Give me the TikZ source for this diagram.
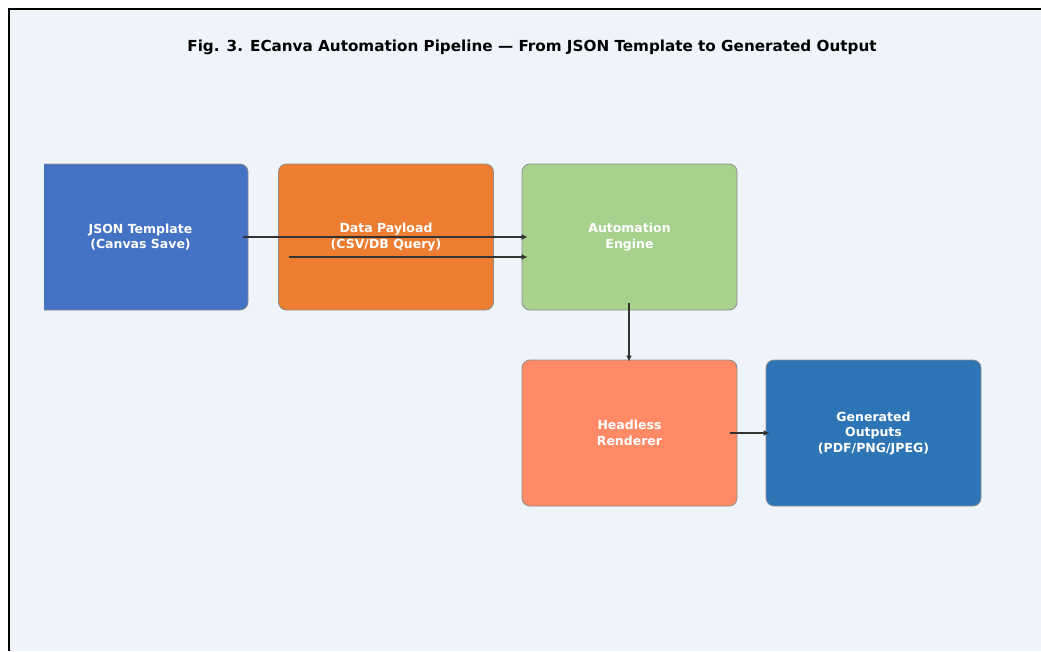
\documentclass[tikz,border=0pt]{standalone}
\usepackage{fontspec}
\setmainfont{DejaVu Sans}
\usetikzlibrary{arrows.meta}
\definecolor{bgc}{HTML}{EFF4FB}
\definecolor{cjson}{HTML}{4472C4}
\definecolor{cdata}{HTML}{ED7D31}
\definecolor{cauto}{HTML}{A9D18E}
\definecolor{crend}{HTML}{FF8A65}
\definecolor{cout}{HTML}{2E75B6}
\definecolor{carr}{HTML}{333333}
\tikzset{
  box/.style={draw=black!45, line width=0.8pt, rounded corners=8pt,
    minimum width=215pt, minimum height=146pt, inner sep=0pt,
    text=white, font=\fontsize{12.5}{15.5}\selectfont\bfseries, align=center},
  arr/.style={draw=carr, line width=1.6pt, -{Latex[length=6pt,width=6pt]}}
}
\begin{document}
\begin{tikzpicture}[x=1pt,y=-1pt]
\useasboundingbox (0,0) rectangle (1041,651);
\fill[white] (0,0) rectangle (1041,651);
\fill[bgc] (9,9) rectangle (1041,651);
\draw[black, line width=1.5pt] (9,651) -- (9,9) -- (1041,9);
\node[font=\fontsize{15.2}{18}\selectfont\bfseries, text=black] (title) at (532,47) {Fig. 3. ECanva Automation Pipeline — From JSON Template to Generated Output};
\begin{scope}
\clip (44,0) rectangle (1041,651);
\node[box, fill=cjson] (json) at (140.5,237) {JSON Template\\(Canvas Save)};
\end{scope}
\node[box, fill=cdata] (data) at (386,237) {Data Payload\\(CSV/DB Query)};
\node[box, fill=cauto] (auto) at (629.5,237) {Automation\\Engine};
\node[box, fill=crend] (rend) at (629.5,433) {Headless\\Renderer};
\node[box, fill=cout] (out) at (873.5,433) {Generated\\Outputs\\(PDF/PNG/JPEG)};
\draw[arr] ([xshift=-5pt]json.east) -- ([xshift=6pt]auto.west);
\draw[arr] ([xshift=11pt,yshift=-20pt]data.west) -- ([xshift=6pt,yshift=-20pt]auto.west);
\draw[arr] ([xshift=-0.5pt,yshift=7pt]auto.south) -- ([xshift=-0.5pt,yshift=-2pt]rend.north);
\draw[arr] ([xshift=-7pt]rend.east) -- ([xshift=4pt]out.west);
\end{tikzpicture}
\end{document}
